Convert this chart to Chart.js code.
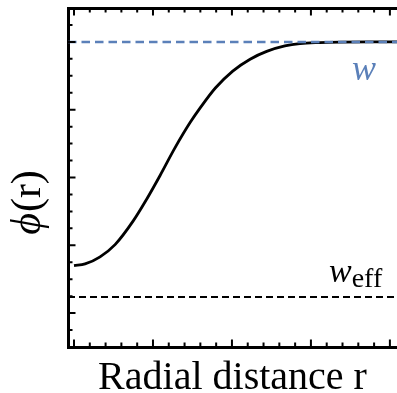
<!DOCTYPE html>
<html>
<head>
<meta charset="utf-8">
<script src="https://cdn.jsdelivr.net/npm/chart.js@4.4.0/dist/chart.umd.min.js"></script>
<style>
  html, body { margin: 0; padding: 0; background: #fff; overflow: hidden; }
  #wrap { width: 397px; height: 393px; position: relative; }
</style>
</head>
<body>
<div id="wrap"><canvas id="chart"></canvas></div>
<script>
// radial distance samples and the profile phi(r)
const rValues = [0, 0.14, 0.33, 0.52, 0.75, 0.92, 1.09, 1.28, 1.47, 1.6, 1.79, 2.01, 2.23, 2.44, 2.67, 2.86, 3.11, 3.37, 3.75, 4.09];
const phiValues = [0.70, 0.725, 0.83, 1.01, 1.36, 1.68, 2.03, 2.44, 2.81, 3.03, 3.32, 3.57, 3.745, 3.86, 3.94, 3.975, 3.99, 3.997, 4.0, 4.0];

// horizontal reference levels
const wLevel = 4;
const wEffLevel = 0.236;

// axis extents
const xRange = [-0.076, 4.09];
const yRange = [-0.5, 4.5];
const xStep = 0.2;
const yStep = 0.25;

const SERIF = "'Liberation Serif', 'DejaVu Serif', serif";
const BLUE = '#5b80b9';

const curve = rValues.map((r, i) => ({ x: r, y: phiValues[i] }));
const wLine = xRange.map(x => ({ x, y: wLevel }));
const wEffLine = xRange.map(x => ({ x, y: wEffLevel }));

// inward frame ticks, placed with the chart's own scales
const innerTicks = {
  id: 'innerTicks',
  afterDatasetsDraw(chart) {
    const { ctx, chartArea: a } = chart;
    const isMajor = v => Math.abs(v - Math.round(v)) < 1e-6;
    ctx.save();
    ctx.strokeStyle = '#000';
    ctx.lineWidth = 2;
    ctx.beginPath();
    for (let v = 0; v <= xRange[1] + 1e-9; v += xStep) {
      const px = chart.scales.x.getPixelForValue(v);
      if (px > a.right) break;
      const len = isMajor(v) ? 6 : 3;
      ctx.moveTo(px, a.bottom); ctx.lineTo(px, a.bottom - 1.5 - len);
      ctx.moveTo(px, a.top); ctx.lineTo(px, a.top + 1.5 + len);
    }
    for (let v = yRange[0]; v <= yRange[1] + 1e-9; v += yStep) {
      const py = chart.scales.y.getPixelForValue(v);
      const len = isMajor(v) ? 6 : 3;
      ctx.moveTo(a.left, py); ctx.lineTo(a.left + 1.5 + len, py);
    }
    ctx.stroke();
    ctx.restore();
  }
};

// text labels: axis titles and line annotations
const labels = {
  id: 'labels',
  afterDraw(chart) {
    const { ctx, chartArea: a } = chart;
    const ys = chart.scales.y;
    ctx.save();
    ctx.fillStyle = '#000';
    ctx.textBaseline = 'alphabetic';

    ctx.font = `40px ${SERIF}`;
    ctx.textAlign = 'center';
    ctx.fillText('Radial distance r', (a.left + a.right) / 2, 389);

    // phi(r), rotated
    ctx.save();
    ctx.translate(40, 203);
    ctx.rotate(-Math.PI / 2);
    ctx.textAlign = 'left';
    const phiFont = `italic 42px ${SERIF}`;
    const parFont = `42px ${SERIF}`;
    ctx.font = phiFont;
    const w1 = ctx.measureText('\u03D5').width;
    ctx.font = parFont;
    const w2 = ctx.measureText('(r)').width;
    const x0 = -(w1 + w2) / 2;
    ctx.font = phiFont;
    ctx.fillText('\u03D5', x0, 0);
    ctx.font = parFont;
    ctx.fillText('(r)', x0 + w1 + 1, 0);
    ctx.restore();

    // w label
    ctx.textAlign = 'left';
    ctx.fillStyle = BLUE;
    ctx.font = `italic 36px ${SERIF}`;
    ctx.fillText('w', 352, ys.getPixelForValue(wLevel) + 38);

    // w_eff label
    ctx.fillStyle = '#000';
    const effBase = ys.getPixelForValue(wEffLevel) - 15;
    ctx.font = `italic 34px ${SERIF}`;
    ctx.fillText('w', 329, effBase);
    const ww = ctx.measureText('w').width;
    ctx.font = `28px ${SERIF}`;
    ctx.fillText('eff', 329 + ww, effBase + 5);
    ctx.restore();
  }
};

const frameBorder = { display: true, width: 3, color: '#000' };

new Chart(document.getElementById('chart'), {
  type: 'line',
  data: {
    datasets: [
      { data: wLine, borderColor: BLUE, borderWidth: 2.5, borderDash: [8.5, 5], pointRadius: 0 },
      { data: wEffLine, borderColor: '#000', borderWidth: 2, borderDash: [7, 4], pointRadius: 0 },
      { data: curve, borderColor: '#000', borderWidth: 2.8, pointRadius: 0, cubicInterpolationMode: 'monotone' }
    ]
  },
  options: {
    responsive: true,
    maintainAspectRatio: false,
    animation: false,
    events: [],
    layout: { padding: 0 },
    plugins: { legend: { display: false }, tooltip: { enabled: false } },
    scales: {
      x: {
        type: 'linear', position: 'bottom', min: xRange[0], max: xRange[1],
        grid: { display: false }, border: frameBorder,
        ticks: { display: false },
        afterFit: s => { s.height = 46; }
      },
      xTop: {
        type: 'linear', position: 'top', min: xRange[0], max: xRange[1],
        grid: { display: false }, border: frameBorder,
        ticks: { display: false },
        afterFit: s => { s.height = 8; }
      },
      y: {
        type: 'linear', position: 'left', min: yRange[0], max: yRange[1],
        grid: { display: false }, border: frameBorder,
        ticks: { display: false },
        afterFit: s => { s.width = 68; }
      }
    }
  },
  plugins: [innerTicks, labels]
});
</script>
</body>
</html>
